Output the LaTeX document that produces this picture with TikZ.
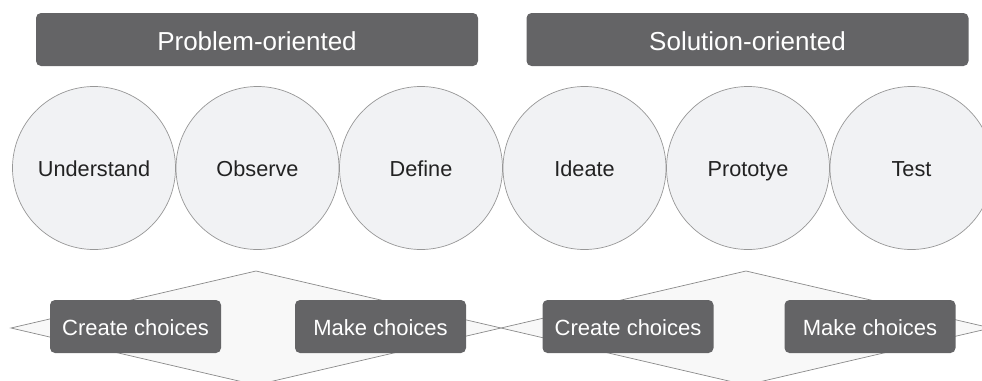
\documentclass[tikz,border=0pt]{standalone}
\usepackage{fontspec}
\setmainfont{Liberation Sans}
\begin{document}
\begin{tikzpicture}[x=1pt,y=-1pt,
  header/.style={fill=boxgray, rounded corners=5pt, text=white, minimum width=442pt, minimum height=53pt, inner sep=0pt, text height=21.5pt, text depth=0pt, font=\fontsize{26}{30}\selectfont},
  phase/.style={circle, draw=circgray, line width=0.7pt, fill=circfill, minimum size=163pt, inner sep=0pt, text height=17pt, text depth=0pt, text=textdark, font=\fontsize{21.7}{26}\selectfont},
  choice/.style={fill=boxgray, rounded corners=5pt, text=white, minimum width=171pt, minimum height=53pt, inner sep=0pt, text height=17.5pt, text depth=0pt, font=\fontsize{22}{26}\selectfont},
  diam/.style={draw=diagray, line width=0.7pt, fill=diafill}]
\definecolor{boxgray}{HTML}{646466}
\definecolor{circgray}{HTML}{979797}
\definecolor{circfill}{HTML}{F1F2F4}
\definecolor{textdark}{HTML}{222222}
\definecolor{diagray}{HTML}{8A8A8A}
\definecolor{diafill}{HTML}{F8F8F8}
\useasboundingbox (0,0) rectangle (982,380);
\clip (0,0) rectangle (982,380);
% headers
\node[header] (prob) at (257,39.5) {Problem-oriented};
\node[header] (sol) at (747.5,39.5) {Solution-oriented};
% circles
\node[phase] (und) at (94,168) {Understand};
\node[phase] (obs) at (257.5,168) {Observe};
\node[phase] (def) at (421,168) {Define};
\node[phase] (ide) at (584.5,168) {Ideate};
\node[phase] (pro) at (748,168) {Prototye};
\node[phase] (tes) at (911.5,168) {Test};
% diamonds
\draw[diam] (11,328) -- (256,271) -- (501,328) -- (256,385) -- cycle;
\draw[diam] (501,328) -- (746,271) -- (991,328) -- (746,385) -- cycle;
% choice boxes
\node[choice] (cc1) at (135.5,326.5) {Create choices};
\node[choice] (mc1) at (380.5,326.5) {Make choices};
\node[choice] (cc2) at (628,326.5) {Create choices};
\node[choice] (mc2) at (870,326.5) {Make choices};
\end{tikzpicture}
\end{document}
